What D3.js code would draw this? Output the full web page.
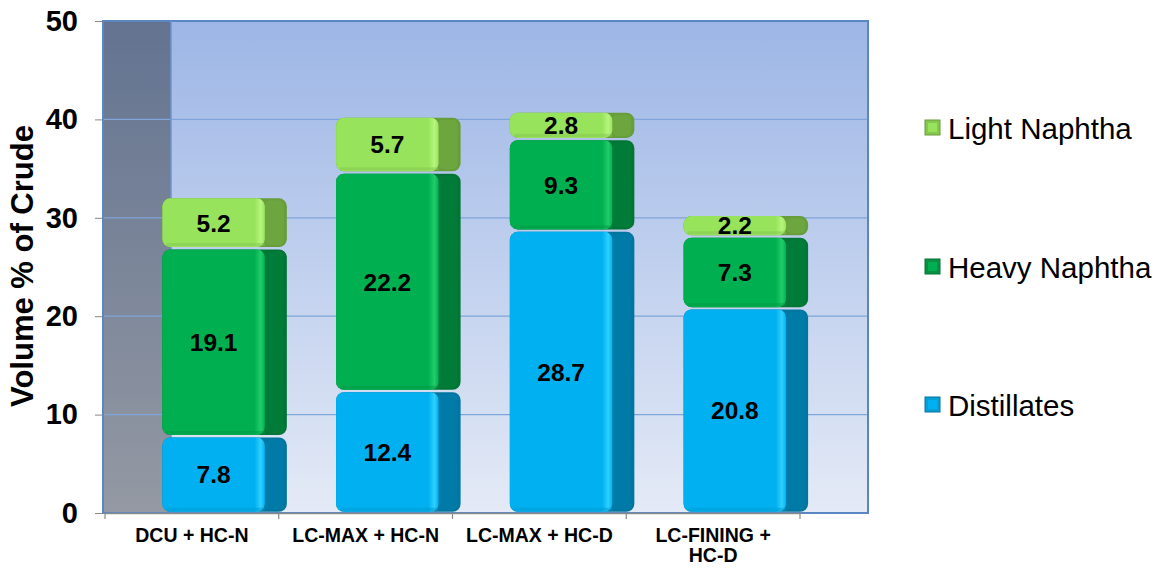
<!DOCTYPE html>
<html>
<head>
<meta charset="utf-8">
<script src="https://cdn.jsdelivr.net/npm/d3@7"></script>
<style>
  body { margin: 0; background: #fff; }
  text { font-family: "Liberation Sans", Arial, sans-serif; }
</style>
</head>
<body>
<div id="chart"></div>
<script>
// data
const categories = ['DCU + HC-N', 'LC-MAX + HC-N', 'LC-MAX + HC-D', 'LC-FINING + HC-D'];
const distillates = [7.8, 12.4, 28.7, 20.8];
const heavyNaphtha = [19.1, 22.2, 9.3, 7.3];
const lightNaphtha = [5.2, 5.7, 2.8, 2.2];
const seriesNames = ['Distillates', 'Heavy Naphtha', 'Light Naphtha'];
const yTicks = [0, 10, 20, 30, 40, 50];

const W = 1163, H = 569;
const svg = d3.select('#chart').append('svg').attr('width', W).attr('height', H);
const defs = svg.append('defs');

// scales
const x = d3.scaleBand().domain(categories).range([105, 800]).paddingInner(0).paddingOuter(0);
const y = d3.scaleLinear().domain([0, 50]).range([513, 21]);
const depth = 68;

// wall gradients
const back = defs.append('linearGradient').attr('id', 'back').attr('x1', 0).attr('y1', 0).attr('x2', 0).attr('y2', 1);
back.append('stop').attr('offset', '0%').attr('stop-color', '#9db6e6');
back.append('stop').attr('offset', '100%').attr('stop-color', '#e4eaf6');
const side = defs.append('linearGradient').attr('id', 'side').attr('x1', 0).attr('y1', 0).attr('x2', 0).attr('y2', 1);
side.append('stop').attr('offset', '0%').attr('stop-color', '#637390');
side.append('stop').attr('offset', '100%').attr('stop-color', '#9499a3');

const x0 = x.range()[0] - 2;
svg.append('rect').attr('x', x0 + depth).attr('y', y(50)).attr('width', 868 - x0 - depth).attr('height', y(0) - y(50))
  .attr('fill', 'url(#back)');
svg.append('rect').attr('x', x0).attr('y', y(50)).attr('width', depth).attr('height', y(0) - y(50))
  .attr('fill', 'url(#side)');

// gridlines
svg.append('g').selectAll('line').data(yTicks.slice(1, -1)).join('line')
  .attr('x1', x0).attr('x2', 868).attr('y1', d => y(d)).attr('y2', d => y(d))
  .attr('stroke', '#7fa5da').attr('stroke-width', 1.2);

// wall borders
svg.append('rect').attr('x', x0).attr('y', y(50)).attr('width', 868 - x0).attr('height', y(0) - y(50))
  .attr('fill', 'none').attr('stroke', '#5a87c4').attr('stroke-width', 2);
svg.append('line').attr('x1', x0 + depth).attr('x2', x0 + depth).attr('y1', y(50)).attr('y2', y(0))
  .attr('stroke', '#6f95cf').attr('stroke-width', 1.5);

// y axis
const yAxis = svg.append('g').attr('transform', `translate(${x0},0)`)
  .call(d3.axisLeft(y).tickValues(yTicks).tickSize(8).tickPadding(17).tickFormat(d3.format('d')));
yAxis.select('.domain').remove();
yAxis.selectAll('line').attr('stroke', '#888');
yAxis.selectAll('text').attr('font-size', 29).attr('font-weight', 'bold').attr('fill', '#000');

// x axis
const xAxis = svg.append('g').attr('transform', `translate(0,${y(0)})`)
  .call(d3.axisBottom(x).tickSize(0).tickFormat(''));
xAxis.select('.domain').attr('stroke', '#8a8a8a').attr('stroke-width', 1.5);
svg.append('g').selectAll('line').data(categories.map(c => x(c)).concat([x.range()[1]])).join('line')
  .attr('x1', d => d).attr('x2', d => d).attr('y1', y(0)).attr('y2', y(0) + 6)
  .attr('stroke', '#8a8a8a').attr('stroke-width', 1.2);

const xLabels = [['DCU + HC-N'], ['LC-MAX + HC-N'], ['LC-MAX + HC-D'], ['LC-FINING +', 'HC-D']];
categories.forEach((c, i) => {
  const t = svg.append('text').attr('x', x(c) + x.bandwidth() / 2).attr('y', 542)
    .attr('text-anchor', 'middle').attr('font-size', 19.5).attr('font-weight', 'bold');
  xLabels[i].forEach((l, j) => t.append('tspan').attr('x', x(c) + x.bandwidth() / 2).attr('dy', j ? 20 : 0).text(l));
});

// y title
svg.append('text').attr('transform', 'translate(33,266) rotate(-90)').attr('text-anchor', 'middle')
  .attr('font-size', 31).attr('font-weight', 'bold').text('Volume % of Crude');

// bar colours: front, light highlight, side
const colors = {
  'Distillates': { front: '#00b0f0', hi: '#2fd0ff', side: '#00759f', mark: '#0a9ed6' },
  'Heavy Naphtha': { front: '#00b050', hi: '#21cc6a', side: '#007535', mark: '#0b8f45' },
  'Light Naphtha': { front: '#98e35c', hi: '#b6f57e', side: '#679d3b', mark: '#86c84e' }
};

// front gradients
seriesNames.forEach((s, i) => {
  const g = defs.append('linearGradient').attr('id', 'f' + i).attr('x1', 0).attr('y1', 0).attr('x2', 1).attr('y2', 0);
  g.append('stop').attr('offset', '0%').attr('stop-color', colors[s].front);
  g.append('stop').attr('offset', '90%').attr('stop-color', colors[s].front);
  g.append('stop').attr('offset', '96%').attr('stop-color', colors[s].hi);
  g.append('stop').attr('offset', '100%').attr('stop-color', colors[s].front);
});

const stackData = categories.map((c, i) => ({ cat: c, 'Distillates': distillates[i], 'Heavy Naphtha': heavyNaphtha[i], 'Light Naphtha': lightNaphtha[i] }));
const stacked = d3.stack().keys(seriesNames)(stackData);

const faceOff = 0.33, faceW = 0.59, sideW = 22;
stacked.forEach((layer, li) => {
  const s = layer.key;
  const g = svg.append('g');
  layer.forEach(d => {
    const bx = x(d.data.cat) + x.bandwidth() * faceOff;
    const bw = x.bandwidth() * faceW;
    const top = y(d[1]) + 1.2, bot = y(d[0]) - 1.2;
    const h = bot - top;
    // side + shadow
    g.append('rect').attr('x', bx).attr('y', top).attr('width', bw + sideW).attr('height', h)
      .attr('rx', 8).attr('fill', colors[s].side);
    g.append('rect').attr('x', bx + bw).attr('y', top + 2).attr('width', sideW - 3).attr('height', Math.max(0, h - 4))
      .attr('rx', 5).attr('fill', d3.color(colors[s].side).brighter(0.15));
    // front face
    g.append('rect').attr('x', bx).attr('y', top).attr('width', bw).attr('height', h)
      .attr('rx', 8).attr('fill', `url(#f${li})`);
    // bottom shade
    g.append('rect').attr('x', bx + 4).attr('y', bot - 4).attr('width', bw - 4).attr('height', 3)
      .attr('fill', d3.color(colors[s].front).darker(0.4)).attr('opacity', 0.5);
    // value label
    g.append('text').attr('x', bx + bw / 2).attr('y', (top + bot) / 2).attr('dy', '0.36em')
      .attr('text-anchor', 'middle').attr('font-size', 24.5).attr('font-weight', 'bold').attr('fill', '#000')
      .text(d3.format('.1f')(d[1] - d[0]));
  });
});

// legend
const legendY = { 'Light Naphtha': 128, 'Heavy Naphtha': 267, 'Distillates': 405 };
seriesNames.forEach(s => {
  const ly = legendY[s];
  const lg = svg.append('g');
  lg.append('rect').attr('x', 925).attr('y', ly - 8).attr('width', 15).attr('height', 15)
    .attr('fill', colors[s].mark).attr('stroke', colors[s].side).attr('stroke-width', 1);
  lg.append('rect').attr('x', 928).attr('y', ly - 5).attr('width', 9).attr('height', 9)
    .attr('fill', colors[s].front);
  lg.append('text').attr('x', 948).attr('y', ly).attr('dy', '0.36em')
    .attr('font-size', 29.5).attr('fill', '#000').text(s);
});
</script>
</body>
</html>
